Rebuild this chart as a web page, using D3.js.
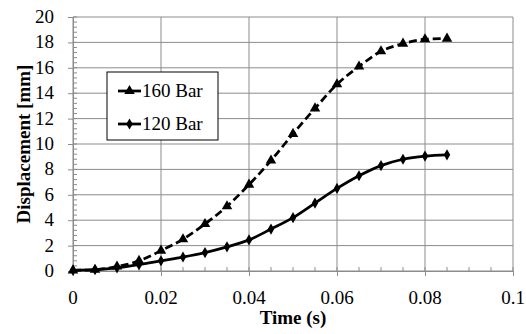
<!DOCTYPE html>
<html>
<head>
<script src="https://d3js.org/d3.v7.min.js"></script>
<style>
    svg text { font-family: "Liberation Serif", "Times New Roman", serif !important; }
</style>
</head>
<body style="margin:0">
<script>
    // data
    const time = [0, 0.005, 0.01, 0.015, 0.02, 0.025, 0.03, 0.035, 0.04, 0.045,
                  0.05, 0.055, 0.06, 0.065, 0.07, 0.075, 0.08, 0.085];
    const bar160 = [0.05, 0.1, 0.35, 0.8, 1.6, 2.5, 3.7, 5.1, 6.8, 8.7,
                    10.8, 12.8, 14.7, 16.1, 17.3, 17.9, 18.25, 18.3];
    const bar120 = [0.05, 0.1, 0.25, 0.5, 0.8, 1.1, 1.45, 1.9, 2.45, 3.3,
                    4.2, 5.35, 6.5, 7.5, 8.3, 8.8, 9.05, 9.15];
    const xTicks = [0, 0.02, 0.04, 0.06, 0.08, 0.1];
    const yTicks = [0, 2, 4, 6, 8, 10, 12, 14, 16, 18, 20];
    const seriesNames = ["160 Bar", "120 Bar"];

    const serif = "'Liberation Serif'";

    const W = 526, H = 334;
    const margin = { top: 17, right: 13, bottom: 63, left: 73 };
    const width = W - margin.left - margin.right;
    const height = H - margin.top - margin.bottom;

    const svg = d3.select("body").append("svg")
        .attr("width", W)
        .attr("height", H);

    const g = svg.append("g")
        .attr("transform", "translate(" + margin.left + "," + margin.top + ")");

    const x = d3.scaleLinear().domain([0, 0.1]).range([0, width]);
    const y = d3.scaleLinear().domain([0, 20]).range([height, 0]);

    const grey = "#8c8c8c";

    // gridlines
    g.selectAll(".hgrid")
        .data(yTicks)
        .enter().append("line")
        .attr("x1", 0).attr("x2", width)
        .attr("y1", d => y(d)).attr("y2", d => y(d))
        .attr("stroke", grey).attr("stroke-width", 1);

    g.selectAll(".vgrid")
        .data(xTicks)
        .enter().append("line")
        .attr("y1", 0).attr("y2", height)
        .attr("x1", d => x(d)).attr("x2", d => x(d))
        .attr("stroke", grey).attr("stroke-width", 1);

    // minor ticks (inside)
    const yMinor = d3.range(0, 20.001, 0.4);
    g.selectAll(".ymin")
        .data(yMinor)
        .enter().append("line")
        .attr("x1", 0).attr("x2", 4)
        .attr("y1", d => y(d)).attr("y2", d => y(d))
        .attr("stroke", grey);

    const xMinor = d3.range(0, 0.1001, 0.005);
    g.selectAll(".xmin")
        .data(xMinor)
        .enter().append("line")
        .attr("y1", height).attr("y2", height - 4)
        .attr("x1", d => x(d)).attr("x2", d => x(d))
        .attr("stroke", grey);

    // axes: d3 draws the lines, labels are own text
    const xAxis = g.append("g")
        .attr("transform", "translate(0," + height + ")")
        .call(d3.axisBottom(x).tickValues(xTicks).tickSize(5).tickFormat(""));
    const yAxis = g.append("g")
        .call(d3.axisLeft(y).tickValues(yTicks).tickSize(5).tickFormat(""));

    [xAxis, yAxis].forEach(a => {
        a.select(".domain").attr("stroke", grey);
        a.selectAll(".tick line").attr("stroke", grey);
    });

    g.selectAll(".xlab")
        .data(xTicks)
        .enter().append("text")
        .attr("x", d => x(d))
        .attr("y", height + 33)
        .attr("text-anchor", "middle")
        .style("font-family", serif)
        .attr("font-size", 19)
        .text(d => d === 0 ? "0" : String(+d.toFixed(2)));

    g.selectAll(".ylab")
        .data(yTicks)
        .enter().append("text")
        .attr("x", -19)
        .attr("y", d => y(d) + 6)
        .attr("text-anchor", "end")
        .style("font-family", serif)
        .attr("font-size", 19)
        .text(d => d);

    // lines
    const line = d3.line()
        .x((d, i) => x(time[i]))
        .y(d => y(d))
        .curve(d3.curveMonotoneX);

    g.append("path")
        .datum(bar160)
        .attr("d", line)
        .attr("fill", "none")
        .attr("stroke", "#000")
        .attr("stroke-width", 2.75)
        .attr("stroke-dasharray", "8,4");

    g.append("path")
        .datum(bar120)
        .attr("d", line)
        .attr("fill", "none")
        .attr("stroke", "#000")
        .attr("stroke-width", 2.75);

    const tri = d3.symbol().type(d3.symbolTriangle).size(48);
    const dia = d3.symbol().type(d3.symbolDiamond).size(36);

    g.selectAll(".m160")
        .data(bar160)
        .enter().append("path")
        .attr("d", tri)
        .attr("transform", (d, i) => "translate(" + x(time[i]) + "," + y(d) + ")")
        .attr("fill", "#000");

    g.selectAll(".m120")
        .data(bar120)
        .enter().append("path")
        .attr("d", dia)
        .attr("transform", (d, i) => "translate(" + x(time[i]) + "," + y(d) + ")")
        .attr("fill", "#000");

    // legend
    const legend = svg.append("g").attr("transform", "translate(107,72)");
    legend.append("rect")
        .attr("width", 111).attr("height", 68)
        .attr("fill", "#fff").attr("stroke", "#000").attr("stroke-width", 1);

    const symbols = [tri, dia];
    seriesNames.forEach((name, i) => {
        const ly = 19 + i * 33;
        const row = legend.append("g").attr("transform", "translate(0," + ly + ")");
        row.append("line")
            .attr("x1", 11).attr("x2", 34)
            .attr("y1", 0).attr("y2", 0)
            .attr("stroke", "#000").attr("stroke-width", 2.75);
        row.append("path")
            .attr("d", symbols[i])
            .attr("transform", "translate(22.5,0)")
            .attr("fill", "#000");
        row.append("text")
            .attr("x", 35).attr("y", 6)
            .style("font-family", serif)
            .attr("font-size", 19)
            .text(name);
    });

    // axis titles
    svg.append("text")
        .attr("x", margin.left + width / 2)
        .attr("y", 324)
        .attr("text-anchor", "middle")
        .style("font-family", serif)
        .attr("font-size", 19)
        .attr("font-weight", "bold")
        .text("Time (s)");

    svg.append("text")
        .attr("transform", "translate(30," + (margin.top + height / 2) + ") rotate(-90)")
        .attr("text-anchor", "middle")
        .style("font-family", serif)
        .attr("font-size", 19)
        .attr("font-weight", "bold")
        .text("Displacement [mm]");
</script>
</body>
</html>
